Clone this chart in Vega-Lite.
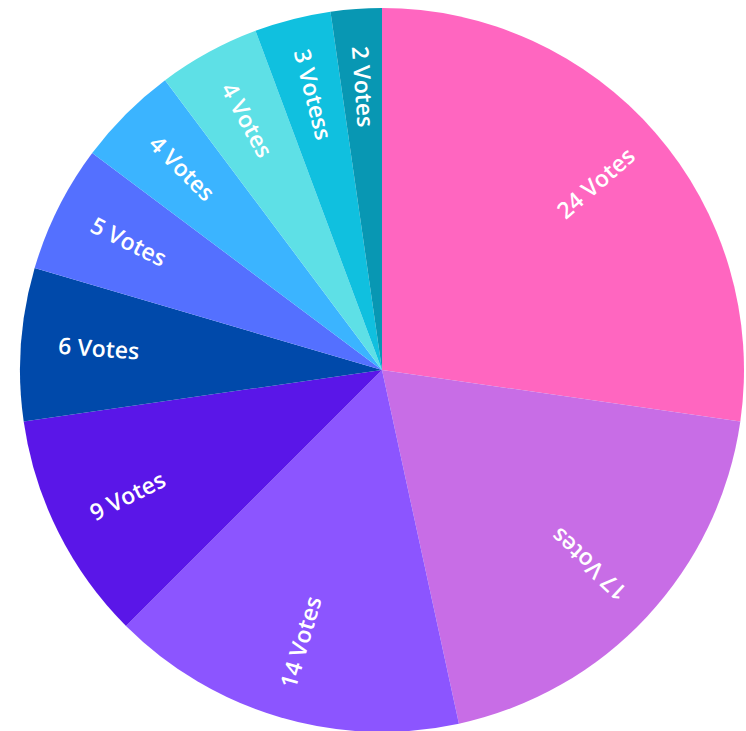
{
  "$schema": "https://vega.github.io/schema/vega-lite/v6.json",
  "width": 728,
  "height": 722,
  "autosize": {"type": "none"},
  "padding": {"left": 18, "top": 9, "right": 0, "bottom": 0},
  "background": "white",
  "view": {"stroke": null},
  "data": {
    "values": [
      {"idx": 1, "label": "24 Votes", "votes": 24},
      {"idx": 2, "label": "17 Votes", "votes": 17},
      {"idx": 3, "label": "14 Votes", "votes": 14},
      {"idx": 4, "label": "9 Votes", "votes": 9},
      {"idx": 5, "label": "6 Votes", "votes": 6},
      {"idx": 6, "label": "5 Votes", "votes": 5},
      {"idx": 7, "label": "4 Votes", "votes": 4},
      {"idx": 8, "label": "4 Votes", "votes": 4},
      {"idx": 9, "label": "3 Votess", "votes": 3},
      {"idx": 10, "label": "2 Votes", "votes": 2}
    ]
  },
  "transform": [
    {"joinaggregate": [{"op": "sum", "field": "votes", "as": "total"}]},
    {"window": [{"op": "sum", "field": "votes", "as": "cum"}], "sort": [{"field": "idx"}], "frame": [null, 0]},
    {"calculate": "(datum.cum - datum.votes / 2) / datum.total * 360", "as": "mid"},
    {"calculate": "datum.mid < 90 ? datum.mid - 90 : datum.mid + 90", "as": "labelAngle"}
  ],
  "encoding": {
    "theta": {"field": "votes", "type": "quantitative", "stack": true},
    "order": {"field": "idx", "type": "quantitative"}
  },
  "layer": [
    {
      "mark": {"type": "arc", "outerRadius": 362},
      "encoding": {
        "color": {
          "field": "idx",
          "type": "nominal",
          "legend": null,
          "scale": {
            "domain": [1, 2, 3, 4, 5, 6, 7, 8, 9, 10],
            "range": ["#FF66C0", "#C86DE6", "#8C55FF", "#5A16E8", "#0049AA", "#5470FF", "#3BB4FF", "#5EE0E6", "#10C0DF", "#0897B3"]
          }
        }
      }
    },
    {
      "mark": {"type": "text", "radius": 284, "color": "white", "font": "Open Sans", "fontSize": 23, "fontWeight": 600, "align": "center", "baseline": "middle"},
      "encoding": {
        "text": {"field": "label", "type": "nominal"},
        "angle": {"field": "labelAngle", "type": "quantitative", "scale": null}
      }
    }
  ]
}
